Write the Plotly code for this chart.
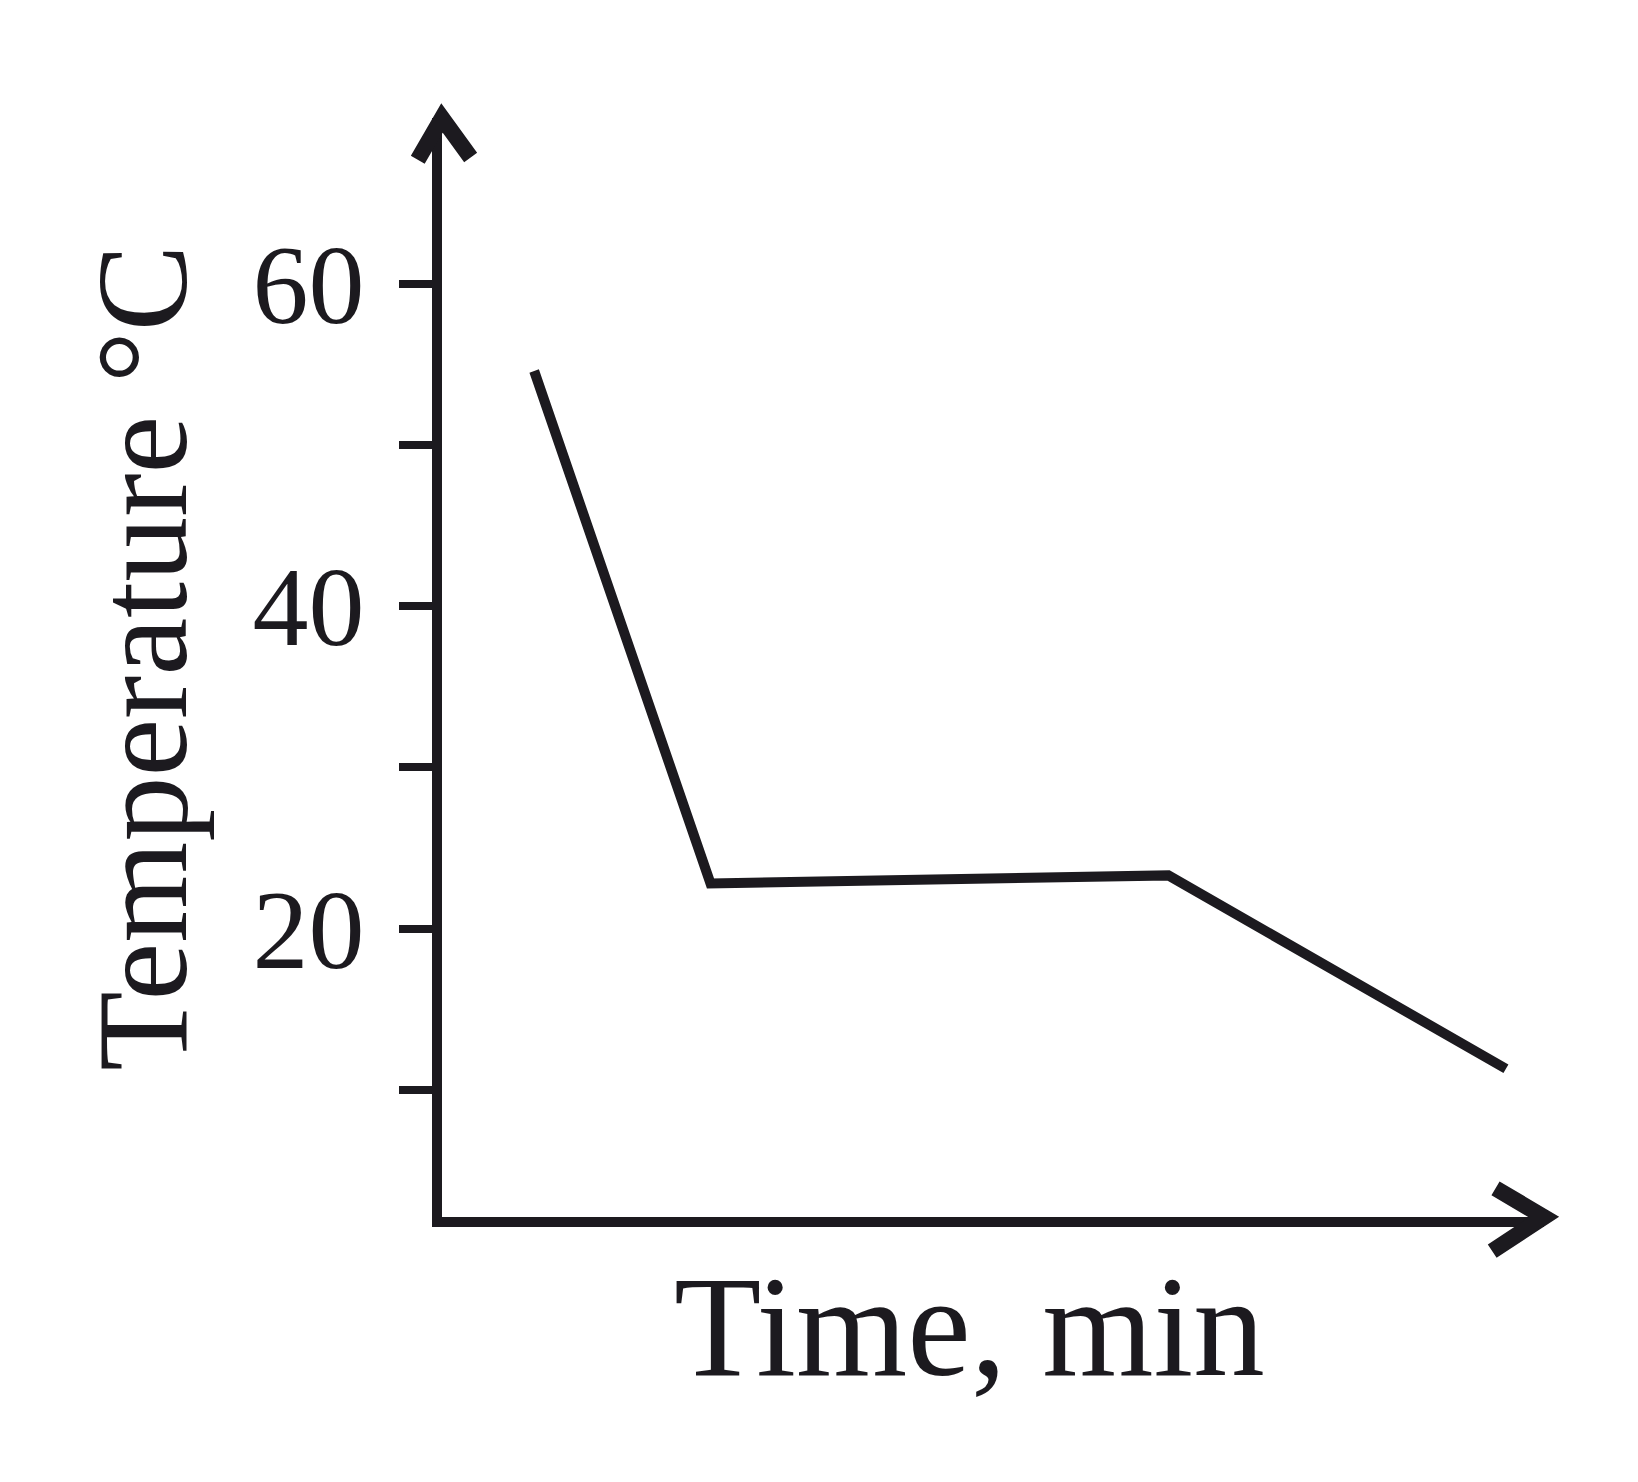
import plotly.graph_objects as go

# cooling curve data
time_min = [0.92, 2.68, 7.25, 10.62]
temp_c = [54.6, 22.8, 23.3, 11.3]

tick_vals = [10, 20, 30, 40, 50, 60]
tick_text = ["", "20", "", "40", "", "60"]

x_title = "Time, min"
y_title = "Temperature °C"

ink = "#1c1a1f"
serif = "Liberation Serif"

fig = go.Figure()
fig.add_trace(go.Scatter(
    x=time_min, y=temp_c, mode="lines",
    line=dict(color=ink, width=10),
    showlegend=False, hoverinfo="skip",
))

fig.update_xaxes(
    range=[0, 11], showline=True, linewidth=10, linecolor=ink,
    showgrid=False, zeroline=False, ticks="", showticklabels=False,
)
fig.update_yaxes(
    range=[2.1, 70.3], showline=True, linewidth=10, linecolor=ink,
    showgrid=False, zeroline=False,
    tickmode="array", tickvals=tick_vals, ticktext=tick_text,
    ticks="outside", ticklen=33, tickwidth=8, tickcolor=ink,
    ticklabelstandoff=12,
    tickfont=dict(family=serif, size=112, color=ink),
)

# arrow heads on both axes
fig.add_shape(type="path", xref="paper", yref="paper",
              path="M -0.022,0.962 L 0,1 L 0.026,0.964",
              line=dict(color=ink, width=16))
fig.add_shape(type="path", xref="paper", yref="paper",
              path="M 0.956,0.026 L 1,0 L 0.953,-0.031",
              line=dict(color=ink, width=16))

fig.add_annotation(text=x_title, xref="paper", yref="paper",
                   x=0.479, y=-0.100, showarrow=False,
                   xanchor="center", yanchor="middle",
                   font=dict(family=serif, size=143, color=ink))
fig.add_annotation(text=y_title, xref="paper", yref="paper",
                   x=-0.273, y=0.509, showarrow=False, textangle=-90,
                   xanchor="center", yanchor="middle",
                   font=dict(family=serif, size=130, color=ink))

fig.update_layout(
    width=1638, height=1482,
    margin=dict(l=434, r=102, t=110, b=273),
    paper_bgcolor="white", plot_bgcolor="white",
)

fig.write_html("out.html")
